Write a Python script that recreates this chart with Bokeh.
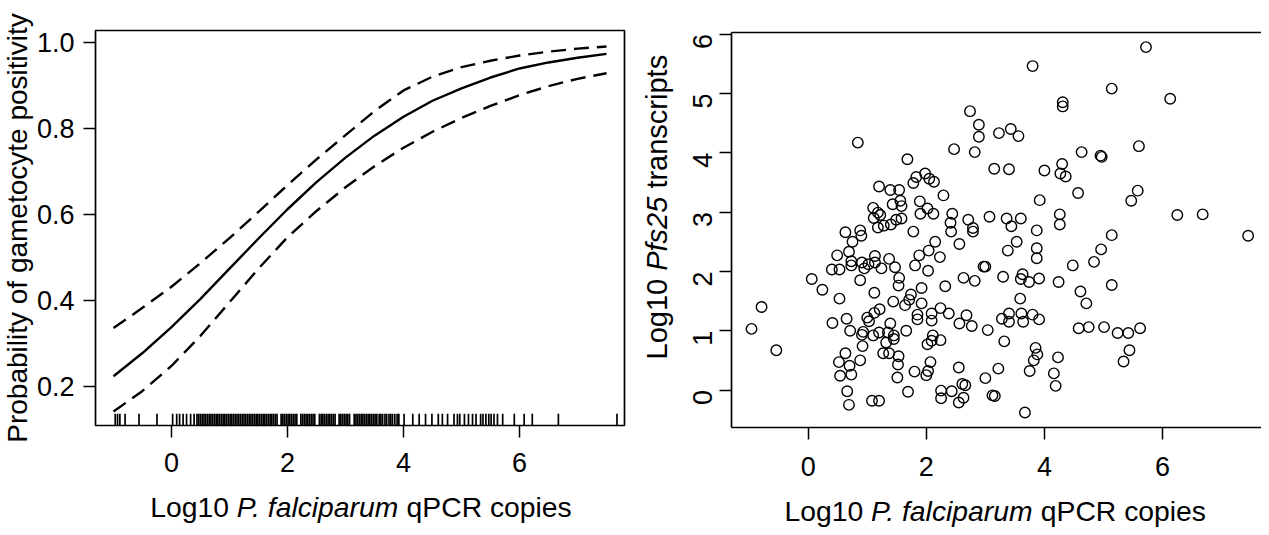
import math
from bokeh.plotting import figure
from bokeh.models import Range1d, FixedTicker, PrintfTickFormatter, LinearAxis, Title
from bokeh.core.properties import value
from bokeh.layouts import row, column
from bokeh.embed import file_html
from bokeh.resources import INLINE

# ---------------- data ----------------
curve_x = [-1.0, -0.5, 0.0, 0.5, 1.0, 1.5, 2.0, 2.5, 3.0, 3.5, 4.0, 4.5, 5.0, 5.5, 6.0, 6.5, 7.0, 7.5]
fit_p = [0.224, 0.278, 0.338, 0.404, 0.474, 0.544, 0.612, 0.675, 0.732, 0.783, 0.827, 0.864, 0.893, 0.918, 0.939, 0.953, 0.964, 0.973]
upper_p = [0.336, 0.383, 0.432, 0.487, 0.545, 0.606, 0.668, 0.728, 0.784, 0.840, 0.888, 0.920, 0.942, 0.957, 0.969, 0.978, 0.985, 0.990]
lower_p = [0.142, 0.190, 0.248, 0.318, 0.396, 0.474, 0.547, 0.608, 0.663, 0.712, 0.755, 0.792, 0.824, 0.852, 0.877, 0.898, 0.915, 0.928]

rug_x = [
    -0.97, -0.93, -0.89, -0.80, -0.56, -0.25,
    0.02, 0.09, 0.14, 0.20, 0.26, 0.33, 0.39,
    0.44, 0.47, 0.50, 0.53, 0.56, 0.59, 0.62, 0.65, 0.68, 0.71, 0.74, 0.77, 0.80, 0.83, 0.86, 0.89, 0.92, 0.95, 0.98,
    1.01, 1.04, 1.07, 1.10, 1.13, 1.16, 1.19, 1.22, 1.25, 1.28, 1.31, 1.34, 1.37, 1.40, 1.43, 1.46, 1.49, 1.52,
    1.55, 1.58, 1.61, 1.64, 1.67, 1.70, 1.73,
    1.76, 1.79, 1.82, 1.89, 1.92, 1.95, 1.98, 2.01, 2.04, 2.07, 2.10, 2.13, 2.16,
    2.23, 2.26, 2.29, 2.32, 2.35, 2.38, 2.41, 2.44, 2.47,
    2.55, 2.58, 2.61, 2.64, 2.67, 2.70, 2.73, 2.76, 2.79, 2.82,
    2.89, 2.92, 2.95, 2.98, 3.01, 3.04, 3.07,
    3.15, 3.18, 3.21, 3.24, 3.27, 3.30, 3.33, 3.36, 3.39, 3.42, 3.45,
    3.48, 3.51, 3.54, 3.58, 3.61, 3.64, 3.68, 3.71, 3.75, 3.78, 3.81, 3.85, 3.89, 3.92,
    4.01, 4.16, 4.27, 4.38, 4.49, 4.60, 4.67, 4.76,
    4.87, 4.93, 4.97, 5.05, 5.12, 5.19, 5.25, 5.33, 5.37, 5.42, 5.47, 5.51, 5.56, 5.62, 5.71,
    5.91, 6.08, 6.22, 6.67, 7.68,
]

pf_log10 = [
    -0.96, -0.79, -0.54, 0.06, 0.24, 0.40, 0.41, 0.49, 0.52, 0.53,
    0.53, 0.54, 0.63, 0.63, 0.65, 0.66, 0.69, 0.69, 0.70, 0.71,
    0.73, 0.73, 0.73, 0.75, 0.84, 0.88, 0.88, 0.88, 0.90, 0.92,
    0.91, 0.95, 0.93, 0.91, 1.00, 1.03, 1.02, 1.08, 1.10, 1.10,
    1.11, 1.12, 1.12, 1.13, 1.13, 1.18, 1.18, 1.20, 1.20, 1.21,
    1.20, 1.22, 1.24, 1.27, 1.28, 1.32, 1.35, 1.37, 1.37, 1.39,
    1.39, 1.40, 1.43, 1.45, 1.45, 1.44, 1.47, 1.49, 1.51, 1.52,
    1.54, 1.53, 1.54, 1.53, 1.56, 1.58, 1.58, 1.64, 1.66, 1.68,
    1.69, 1.71, 1.74, 1.78, 1.78, 1.80, 1.81, 1.83, 1.85, 1.85,
    1.88, 1.89, 1.90, 1.92, 1.92, 1.98, 2.00, 2.02, 2.02, 2.03,
    2.03, 2.04, 2.05, 2.07, 2.09, 2.09, 2.09, 2.11, 2.12, 2.13,
    2.15, 2.23, 2.24, 2.24, 2.25, 2.25, 2.29, 2.32, 2.38, 2.42,
    2.41, 2.44, 2.43, 2.47, 2.55, 2.55, 2.56, 2.56, 2.61, 2.63,
    2.63, 2.66, 2.68, 2.71, 2.74, 2.77, 2.79, 2.79, 2.82, 2.82,
    2.89, 2.89, 2.97, 3.00, 3.00, 3.04, 3.07, 3.12, 3.16, 3.15,
    3.23, 3.22, 3.28, 3.30, 3.32, 3.36, 3.38, 3.40, 3.40, 3.40,
    3.43, 3.44, 3.53, 3.56, 3.59, 3.60, 3.60, 3.61, 3.63, 3.64,
    3.67, 3.74, 3.75, 3.80, 3.80, 3.82, 3.85, 3.87, 3.87, 3.87,
    3.88, 3.91, 3.91, 3.92, 4.00, 4.16, 4.19, 4.23, 4.24, 4.26,
    4.26, 4.27, 4.30, 4.31, 4.31, 4.36, 4.48, 4.57, 4.58, 4.61,
    4.63, 4.71, 4.75, 4.84, 4.96, 4.95, 4.97, 5.01, 5.14, 5.14,
    5.14, 5.24, 5.34, 5.42, 5.44, 5.47, 5.58, 5.60, 5.62, 5.72,
    6.13, 6.25, 6.68, 7.45,
]
pfs25_log10 = [
    1.03, 1.40, 0.67, 1.87, 1.69, 2.03, 1.13, 2.27, 0.47, 2.03,
    1.54, 0.24, 2.66, 0.62, 1.20, -0.02, -0.25, 2.33, 0.41, 1.00,
    2.17, 2.10, 0.26, 2.50, 4.17, 0.50, 1.85, 2.69, 2.60, 0.74,
    2.15, 2.05, 0.98, 0.93, 1.22, 1.16, 2.12, -0.18, 3.07, 0.92,
    2.90, 1.64, 1.30, 2.26, 2.15, 2.74, 2.99, -0.18, 3.43, 1.36,
    0.97, 2.95, 2.05, 0.62, 2.77, 0.80, 0.97, 0.62, 2.21, 1.12,
    3.37, 2.79, 3.13, 0.92, 0.86, 1.49, 2.07, 2.87, 0.21, 0.43,
    3.37, 0.57, 1.89, 1.76, 3.19, 3.10, 2.89, 1.43, 1.00, 3.89,
    -0.03, 1.52, 1.61, 2.67, 3.49, 0.31, 2.10, 3.59, 1.27, 1.19,
    2.27, 3.18, 2.97, 1.72, 1.46, 3.65, 0.25, 0.77, 3.06, 2.01,
    0.32, 2.35, 3.56, 0.47, 1.29, 1.17, 0.83, 0.92, 2.97, 3.51,
    2.50, 2.24, 1.38, 0.84, -0.01, -0.14, 3.28, 1.75, 1.29, 2.67,
    2.82, 2.97, -0.02, 4.06, 0.38, -0.21, 1.12, 2.46, 0.10, -0.13,
    1.89, 0.08, 1.26, 2.87, 4.70, 1.08, 2.73, 2.67, 1.84, 4.01,
    4.47, 4.27, 2.08, 2.08, 0.20, 1.01, 2.92, -0.09, -0.10, 3.73,
    4.33, 0.36, 1.20, 1.91, 0.82, 2.89, 2.35, 1.29, 1.15, 3.72,
    4.40, 2.76, 2.50, 4.28, 1.54, 2.89, 1.87, 1.29, 1.95, 1.15,
    -0.38, 1.82, 0.32, 5.46, 1.27, 0.50, 0.71, 2.69, 2.39, 2.22,
    0.60, 1.19, 1.88, 3.20, 3.70, 0.28, 0.07, 0.55, 1.82, 2.96,
    2.79, 3.65, 3.81, 4.85, 4.78, 3.60, 2.10, 3.32, 1.04, 1.66,
    4.01, 1.46, 1.06, 2.16, 2.37, 3.95, 3.93, 1.06, 5.08, 2.61,
    1.77, 0.96, 0.48, 0.96, 0.67, 3.19, 3.36, 4.11, 1.04, 5.78,
    4.91, 2.95, 2.96, 2.60,
]

x_ticks = [0, 2, 4, 6]
left_y_ticks = [0.2, 0.4, 0.6, 0.8, 1.0]
right_y_ticks = [0, 1, 2, 3, 4, 5, 6]

left_x_title = ["Log10", "P. falciparum", "qPCR copies"]
left_y_title = "Probability of gametocyte positivity"
right_x_title = ["Log10", "P. falciparum", "qPCR copies"]
right_y_title = ["Log10", "Pfs25", "transcripts"]

# ---------------- styling ----------------
FONT = "Liberation Sans"
TICK_FS = "27px"
TITLE_PX = 28.0
XT_PX = 28.3
RY_PX = 29.0
LW = 1.7
PAGE = 8            # body margin
TOTAL_H = 527
PAGE_BOTTOM = PAGE + TOTAL_H

# widths (em) of title pieces, Arial metrics
W_LOG10 = 3.058      # "Log10 "
W_PFAL = 5.72        # "P. falciparum" (italic)
W_SP = 0.278
W_PFS25 = 2.557      # "Pfs25"


def style_axis(ax, standoff):
    ax.axis_line_color = None
    ax.major_tick_out = 12
    ax.major_tick_in = 0
    ax.minor_tick_line_color = None
    ax.major_tick_line_color = "black"
    ax.major_tick_line_width = 1.5
    ax.major_label_text_font = FONT
    ax.major_label_text_font_size = TICK_FS
    ax.major_label_text_color = "black"
    ax.major_label_standoff = standoff


def text_fig(w, h, bl, br, bt, bb):
    fw, fh = w - bl - br, h - bt - bb
    f = figure(width=w, height=h, x_range=Range1d(0, fw), y_range=Range1d(0, fh),
               output_backend="svg", toolbar_location=None,
               min_border_left=bl, min_border_right=br,
               min_border_top=bt, min_border_bottom=bb)
    f.axis.visible = False
    f.grid.visible = False
    f.outline_line_color = None
    f.background_fill_color = "white"
    f.border_fill_color = "white"
    return f


def put(f, x, y, s, px, italic=False, angle=0.0, align="left"):
    f.text(x=[x], y=[y], text=[s], angle=angle, text_align=align, text_baseline="middle",
           text_font=value(FONT), text_font_size=value(f"{px}px"), text_color="black",
           text_font_style="italic" if italic else "normal")


def x_title(f, frame_left, start_x, mid_y, pieces):
    x0 = start_x - frame_left
    y0 = PAGE_BOTTOM - mid_y
    put(f, x0, y0, pieces[0], XT_PX)
    put(f, x0 + W_LOG10 * XT_PX, y0, pieces[1], XT_PX, italic=True)
    put(f, x0 + (W_LOG10 + W_PFAL + W_SP) * XT_PX, y0, pieces[2], XT_PX)


# ---------------- left panel ----------------
ly0, ly1 = 0.1097, 1.0272
P1_H = 486
L_BL, L_BR, L_BT = 95, 8, 30
L_BB = P1_H - L_BT - 395
p1 = figure(width=632, height=P1_H, x_range=Range1d(-1.310, 7.810), y_range=Range1d(ly0, ly1),
            output_backend="svg", toolbar_location=None,
            min_border_left=L_BL, min_border_right=L_BR, min_border_top=L_BT,
            min_border_bottom=L_BB)
p1.grid.visible = False
p1.outline_line_color = "black"
p1.outline_line_width = LW
p1.background_fill_color = "white"
p1.border_fill_color = "white"

p1.xaxis.ticker = FixedTicker(ticks=x_ticks)
p1.yaxis.ticker = FixedTicker(ticks=left_y_ticks)
p1.yaxis.formatter = PrintfTickFormatter(format="%.1f")
style_axis(p1.xaxis[0], 15)
style_axis(p1.yaxis[0], 9)

p1.add_layout(Title(text=left_y_title, align="center", vertical_align="middle", offset=10,
                    standoff=0, text_font=FONT, text_font_size=f"{TITLE_PX}px",
                    text_font_style="normal", text_color="black"), "left")

p1.line(curve_x, fit_p, line_color="black", line_width=2.4)
p1.line(curve_x, upper_p, line_color="black", line_width=2.4, line_dash="15 8")
p1.line(curve_x, lower_p, line_color="black", line_width=2.4, line_dash="15 8")

rug_top = ly0 + 0.03 * (ly1 - ly0)
p1.segment(x0=rug_x, y0=[ly0] * len(rug_x), x1=rug_x, y1=[rug_top] * len(rug_x),
           line_color="black", line_width=1.7)

xt1 = text_fig(632, TOTAL_H - P1_H, L_BL, L_BR, 0, 0)
x_title(xt1, PAGE + L_BL, 157.8, 514, left_x_title)

# ---------------- right panel ----------------
P2_H = 489
YT2_W = 42
R_BL, R_BR, R_BT = 99 - YT2_W, 0, 32
R_BB = P2_H - R_BT - 395
p2 = figure(width=629 - YT2_W, height=P2_H, x_range=Range1d(-1.299, 7.676), y_range=Range1d(-0.632, 6.026),
            output_backend="svg", toolbar_location=None,
            min_border_left=R_BL, min_border_right=R_BR, min_border_top=R_BT,
            min_border_bottom=R_BB)
p2.grid.visible = False
p2.outline_line_color = None
p2.background_fill_color = "white"
p2.border_fill_color = "white"

p2.xaxis.ticker = FixedTicker(ticks=x_ticks)
p2.yaxis.ticker = FixedTicker(ticks=right_y_ticks)
style_axis(p2.xaxis[0], 17)
style_axis(p2.yaxis[0], 17)
p2.yaxis.major_label_orientation = math.pi / 2
for ax in (p2.xaxis[0], p2.yaxis[0]):
    ax.axis_line_color = "black"
    ax.axis_line_width = LW
top_ax = LinearAxis(ticker=FixedTicker(ticks=[]), major_label_text_font_size="0px",
                    major_tick_out=0, major_tick_in=0, minor_tick_out=0, minor_tick_in=0,
                    axis_line_color="black", axis_line_width=LW)
p2.add_layout(top_ax, "above")

p2.scatter(pf_log10, pfs25_log10, marker="circle", size=10.5, fill_color=None,
           line_color="black", line_width=1.4)

# vertical title: frame of yt2 coincides vertically with p2's frame
yt2 = text_fig(YT2_W, P2_H, 0, 0, R_BT, R_BB)
frame_bottom_2 = PAGE + R_BT + 395
yx = 664 - 640
yb = frame_bottom_2 - 367
put(yt2, yx, yb, right_y_title[0], RY_PX, angle=math.pi / 2)
put(yt2, yx, yb + W_LOG10 * RY_PX, right_y_title[1], RY_PX, italic=True, angle=math.pi / 2)
put(yt2, yx, yb + (W_LOG10 + W_PFS25 + W_SP) * RY_PX, right_y_title[2], RY_PX, angle=math.pi / 2)

xt2 = text_fig(629, TOTAL_H - P2_H, 99, 0, 0, 0)
x_title(xt2, 640 + 99, 792.0, 518, right_x_title)

layout = row(column(p1, xt1), column(row(yt2, p2), xt2))
open("out.html", "w").write(file_html(layout, INLINE))
